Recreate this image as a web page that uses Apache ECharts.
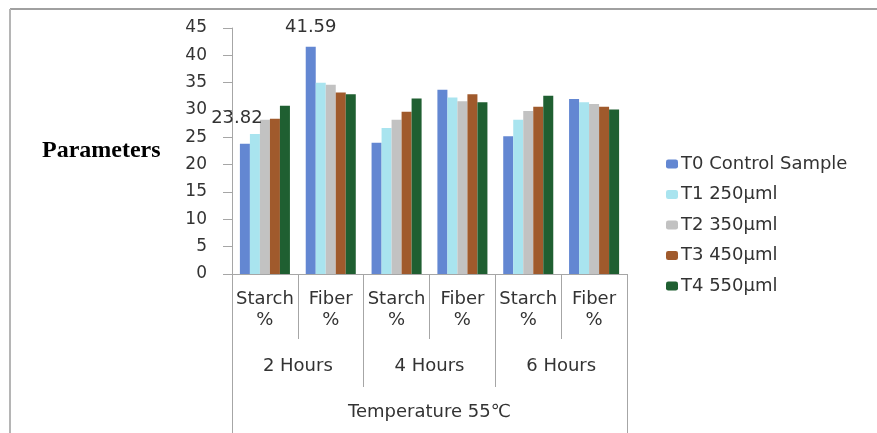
<!DOCTYPE html>
<html><head><meta charset="utf-8">
<script src="https://cdn.jsdelivr.net/npm/echarts@6/dist/echarts.min.js"></script>
<style>html,body{margin:0;padding:0;background:#fff}#c{width:877px;height:433px}</style>
</head><body><div id="c"></div>
<script>
var categories = ['Starch\n%', 'Fiber\n%', 'Starch\n%', 'Fiber\n%', 'Starch\n%', 'Fiber\n%'];
var hourGroups = ['2 Hours', '4 Hours', '6 Hours'];
var outerGroup = ['Temperature 55℃'];
var seriesNames = ['T0 Control Sample', 'T1 250µml', 'T2 350µml', 'T3 450µml', 'T4 550µml'];
var t0 = [23.82, 41.59, 24.0, 33.7, 25.2, 32.0];
var t1 = [25.6, 35.0, 26.7, 32.3, 28.2, 31.4];
var t2 = [28.2, 34.6, 28.2, 31.6, 29.8, 31.1];
var t3 = [28.4, 33.2, 29.7, 32.9, 30.6, 30.6];
var t4 = [30.8, 32.9, 32.1, 31.4, 32.6, 30.1];
var yTicks = [0, 5, 10, 15, 20, 25, 30, 35, 40, 45];

var colors = ['#6387d2', '#a9e4ef', '#c2c2c2', '#a05a2c', '#1f5f31'];
var allValues = [t0, t1, t2, t3, t4];
var font = 'DejaVu Sans';
var grey = '#a6a6a6';

var series = allValues.map(function (vals, si) {
  return {
    name: seriesNames[si], type: 'bar', xAxisIndex: 0,
    barGap: '0%', barCategoryGap: '24%',
    itemStyle: { color: colors[si] },
    data: vals.map(function (v, i) {
      var d = { value: v };
      if (si === 0 && i === 0) d.label = { show: true, position: 'top', offset: [-8, -11], formatter: '{c}' };
      if (si === 0 && i === 1) d.label = { show: true, position: 'top', offset: [0, -5], formatter: '{c}' };
      return d;
    }),
    label: { show: false, fontFamily: font, fontSize: 18, color: '#333' }
  };
});

var chart = echarts.init(document.getElementById('c'));
chart.setOption({
  animation: false,
  textStyle: { fontFamily: font },
  grid: { left: 232, right: 250, top: 28, bottom: 159 },
  legend: {
    orient: 'vertical', left: 661, top: 150, itemWidth: 12, itemHeight: 9, itemGap: 12.5,
    textStyle: { fontFamily: font, fontSize: 18, color: '#333', padding: [0, 0, 0, -2] },
    data: seriesNames, selectedMode: false
  },
  xAxis: [
    { type: 'category', data: categories, position: 'bottom',
      axisLine: { lineStyle: { color: grey } },
      axisTick: { show: true, interval: 0, length: 65, lineStyle: { color: grey } },
      axisLabel: { interval: 0, margin: 15, fontFamily: font, fontSize: 18, color: '#333', lineHeight: 21 } },
    { type: 'category', data: hourGroups, position: 'bottom',
      axisLine: { show: false },
      axisTick: { show: true, interval: 0, length: 113, lineStyle: { color: grey } },
      axisLabel: { interval: 0, margin: 83, fontFamily: font, fontSize: 18, color: '#333' } },
    { type: 'category', data: outerGroup, position: 'bottom',
      axisLine: { show: false },
      axisTick: { show: true, interval: 0, length: 170, lineStyle: { color: grey } },
      axisLabel: { interval: 0, margin: 129, fontFamily: font, fontSize: 18, color: '#333' } }
  ],
  yAxis: {
    type: 'value', min: yTicks[0], max: yTicks[yTicks.length - 1], interval: 5,
    axisLine: { show: true, lineStyle: { color: grey } },
    axisTick: { show: true, length: 9, lineStyle: { color: grey } },
    splitLine: { show: false },
    axisLabel: { margin: 25, fontFamily: font, fontSize: 17, color: '#333' }
  },
  graphic: [
    { type: 'line', shape: { x1: 10, y1: 9, x2: 877, y2: 9 }, style: { stroke: '#a0a0a0', lineWidth: 2 } },
    { type: 'line', shape: { x1: 10, y1: 9, x2: 10, y2: 433 }, style: { stroke: '#b5b5b5', lineWidth: 2 } },
    { type: 'text', left: 42, top: 139, style: { text: 'Parameters', font: 'bold 24px "Liberation Serif"', fill: '#000' } }
  ],
  series: series
});
</script></body></html>
